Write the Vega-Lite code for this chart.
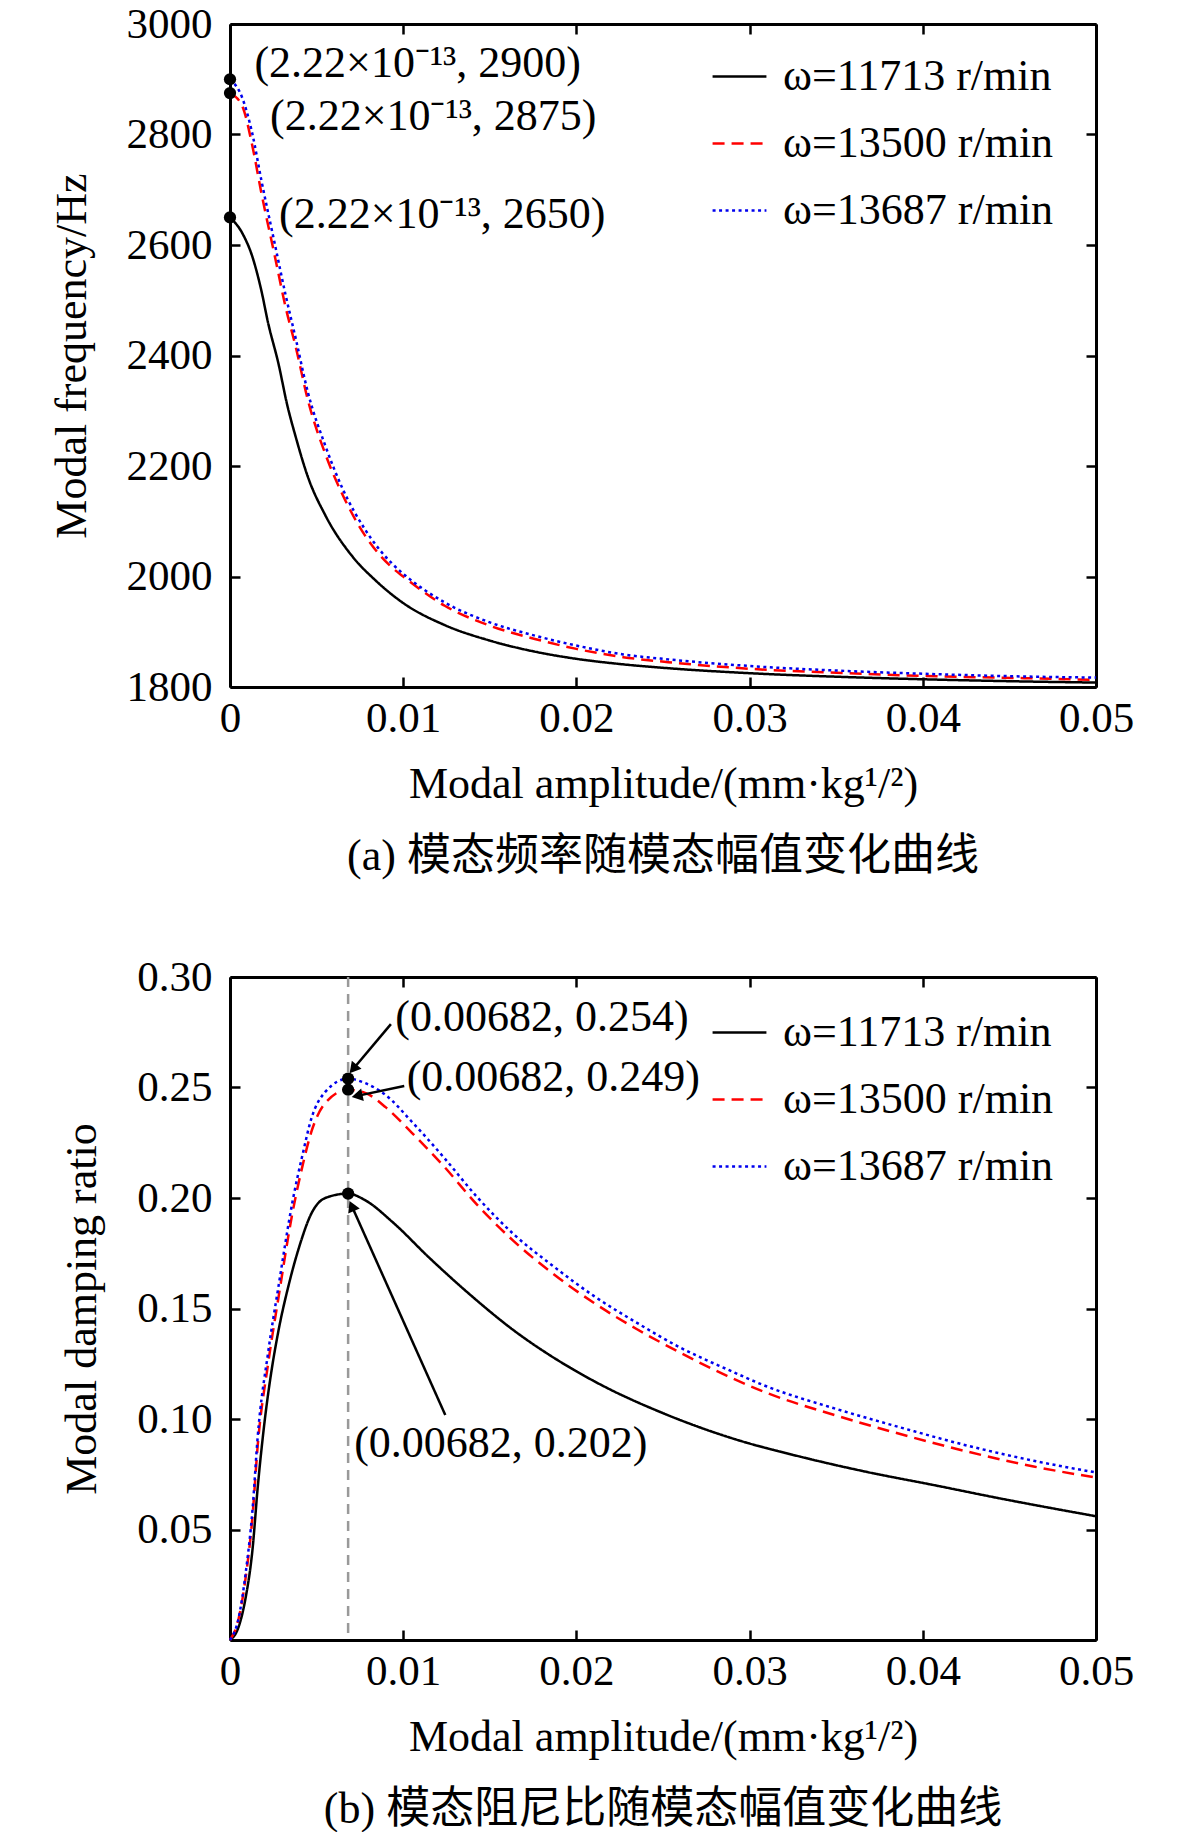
{
  "$schema": "https://vega.github.io/schema/vega-lite/v6.json",
  "background": "white",
  "padding": {"left": 50, "top": 3, "right": 0, "bottom": 0},
  "config": {
    "font": "Liberation Serif",
    "view": {"stroke": null},
    "concat": {"spacing": 77},
    "axis": {
      "domainColor": "black",
      "domainWidth": 3,
      "tickColor": "black",
      "tickWidth": 2.5,
      "tickSize": -10,
      "labelFont": "Liberation Serif",
      "labelFontSize": 43,
      "labelColor": "black",
      "titleFont": "Liberation Serif",
      "titleFontSize": 44,
      "titleFontWeight": "normal",
      "titleColor": "black",
      "grid": false,
      "labelFlush": false,
      "labelOverlap": false
    }
  },
  "datasets": {
    "freq": [
      {"amp": 0, "val": 2650, "series": "ω=11713 r/min"},
      {"amp": 0.0007, "val": 2622, "series": "ω=11713 r/min"},
      {"amp": 0.0013, "val": 2578, "series": "ω=11713 r/min"},
      {"amp": 0.0018, "val": 2519, "series": "ω=11713 r/min"},
      {"amp": 0.0022, "val": 2459, "series": "ω=11713 r/min"},
      {"amp": 0.0028, "val": 2385, "series": "ω=11713 r/min"},
      {"amp": 0.0033, "val": 2311, "series": "ω=11713 r/min"},
      {"amp": 0.0038, "val": 2252, "series": "ω=11713 r/min"},
      {"amp": 0.0045, "val": 2180, "series": "ω=11713 r/min"},
      {"amp": 0.0055, "val": 2111, "series": "ω=11713 r/min"},
      {"amp": 0.0071, "val": 2035, "series": "ω=11713 r/min"},
      {"amp": 0.0084, "val": 1993, "series": "ω=11713 r/min"},
      {"amp": 0.0100, "val": 1952, "series": "ω=11713 r/min"},
      {"amp": 0.0124, "val": 1912, "series": "ω=11713 r/min"},
      {"amp": 0.0150, "val": 1884, "series": "ω=11713 r/min"},
      {"amp": 0.0176, "val": 1864, "series": "ω=11713 r/min"},
      {"amp": 0.0200, "val": 1851, "series": "ω=11713 r/min"},
      {"amp": 0.0227, "val": 1841, "series": "ω=11713 r/min"},
      {"amp": 0.0253, "val": 1834, "series": "ω=11713 r/min"},
      {"amp": 0.0300, "val": 1825, "series": "ω=11713 r/min"},
      {"amp": 0.0356, "val": 1818, "series": "ω=11713 r/min"},
      {"amp": 0.0400, "val": 1814, "series": "ω=11713 r/min"},
      {"amp": 0.0459, "val": 1810, "series": "ω=11713 r/min"},
      {"amp": 0.0500, "val": 1808, "series": "ω=11713 r/min"},
      {"amp": 0, "val": 2875, "series": "ω=13500 r/min"},
      {"amp": 0.0007, "val": 2852, "series": "ω=13500 r/min"},
      {"amp": 0.0013, "val": 2778, "series": "ω=13500 r/min"},
      {"amp": 0.0018, "val": 2696, "series": "ω=13500 r/min"},
      {"amp": 0.0026, "val": 2578, "series": "ω=13500 r/min"},
      {"amp": 0.0032, "val": 2489, "series": "ω=13500 r/min"},
      {"amp": 0.0038, "val": 2415, "series": "ω=13500 r/min"},
      {"amp": 0.0045, "val": 2319, "series": "ω=13500 r/min"},
      {"amp": 0.0055, "val": 2222, "series": "ω=13500 r/min"},
      {"amp": 0.0065, "val": 2148, "series": "ω=13500 r/min"},
      {"amp": 0.0078, "val": 2074, "series": "ω=13500 r/min"},
      {"amp": 0.0094, "val": 2015, "series": "ω=13500 r/min"},
      {"amp": 0.0100, "val": 2000, "series": "ω=13500 r/min"},
      {"amp": 0.0124, "val": 1947, "series": "ω=13500 r/min"},
      {"amp": 0.0150, "val": 1911, "series": "ω=13500 r/min"},
      {"amp": 0.0176, "val": 1887, "series": "ω=13500 r/min"},
      {"amp": 0.0200, "val": 1869, "series": "ω=13500 r/min"},
      {"amp": 0.0227, "val": 1854, "series": "ω=13500 r/min"},
      {"amp": 0.0253, "val": 1845, "series": "ω=13500 r/min"},
      {"amp": 0.0300, "val": 1833, "series": "ω=13500 r/min"},
      {"amp": 0.0356, "val": 1825, "series": "ω=13500 r/min"},
      {"amp": 0.0400, "val": 1820, "series": "ω=13500 r/min"},
      {"amp": 0.0459, "val": 1816, "series": "ω=13500 r/min"},
      {"amp": 0.0500, "val": 1813, "series": "ω=13500 r/min"},
      {"amp": 0, "val": 2900, "series": "ω=13687 r/min"},
      {"amp": 0.0007, "val": 2867, "series": "ω=13687 r/min"},
      {"amp": 0.0013, "val": 2800, "series": "ω=13687 r/min"},
      {"amp": 0.0018, "val": 2719, "series": "ω=13687 r/min"},
      {"amp": 0.0026, "val": 2600, "series": "ω=13687 r/min"},
      {"amp": 0.0032, "val": 2511, "series": "ω=13687 r/min"},
      {"amp": 0.0038, "val": 2430, "series": "ω=13687 r/min"},
      {"amp": 0.0045, "val": 2333, "series": "ω=13687 r/min"},
      {"amp": 0.0055, "val": 2237, "series": "ω=13687 r/min"},
      {"amp": 0.0065, "val": 2159, "series": "ω=13687 r/min"},
      {"amp": 0.0078, "val": 2085, "series": "ω=13687 r/min"},
      {"amp": 0.0094, "val": 2022, "series": "ω=13687 r/min"},
      {"amp": 0.0100, "val": 2005, "series": "ω=13687 r/min"},
      {"amp": 0.0124, "val": 1953, "series": "ω=13687 r/min"},
      {"amp": 0.0150, "val": 1917, "series": "ω=13687 r/min"},
      {"amp": 0.0176, "val": 1893, "series": "ω=13687 r/min"},
      {"amp": 0.0200, "val": 1875, "series": "ω=13687 r/min"},
      {"amp": 0.0227, "val": 1859, "series": "ω=13687 r/min"},
      {"amp": 0.0253, "val": 1850, "series": "ω=13687 r/min"},
      {"amp": 0.0300, "val": 1838, "series": "ω=13687 r/min"},
      {"amp": 0.0356, "val": 1829, "series": "ω=13687 r/min"},
      {"amp": 0.0400, "val": 1824, "series": "ω=13687 r/min"},
      {"amp": 0.0459, "val": 1819, "series": "ω=13687 r/min"},
      {"amp": 0.0500, "val": 1817, "series": "ω=13687 r/min"}
    ],
    "freqPts": [
      {"amp": 0, "val": 2900},
      {"amp": 0, "val": 2875},
      {"amp": 0, "val": 2650}
    ],
    "freqNotes": [
      {"amp": 0.00141, "val": 2928, "label": "(2.22×10⁻¹³, 2900)"},
      {"amp": 0.00231, "val": 2832, "label": "(2.22×10⁻¹³, 2875)"},
      {"amp": 0.00283, "val": 2654, "label": "(2.22×10⁻¹³, 2650)"}
    ],
    "damp": [
      {"amp": 0, "val": 0, "series": "ω=11713 r/min"},
      {"amp": 0.0005, "val": 0.006, "series": "ω=11713 r/min"},
      {"amp": 0.0009, "val": 0.019, "series": "ω=11713 r/min"},
      {"amp": 0.0013, "val": 0.041, "series": "ω=11713 r/min"},
      {"amp": 0.0016, "val": 0.069, "series": "ω=11713 r/min"},
      {"amp": 0.0020, "val": 0.099, "series": "ω=11713 r/min"},
      {"amp": 0.0024, "val": 0.122, "series": "ω=11713 r/min"},
      {"amp": 0.0028, "val": 0.140, "series": "ω=11713 r/min"},
      {"amp": 0.0034, "val": 0.161, "series": "ω=11713 r/min"},
      {"amp": 0.0040, "val": 0.178, "series": "ω=11713 r/min"},
      {"amp": 0.0047, "val": 0.193, "series": "ω=11713 r/min"},
      {"amp": 0.0055, "val": 0.200, "series": "ω=11713 r/min"},
      {"amp": 0.00682, "val": 0.202, "series": "ω=11713 r/min"},
      {"amp": 0.0078, "val": 0.199, "series": "ω=11713 r/min"},
      {"amp": 0.0094, "val": 0.189, "series": "ω=11713 r/min"},
      {"amp": 0.0115, "val": 0.173, "series": "ω=11713 r/min"},
      {"amp": 0.0139, "val": 0.156, "series": "ω=11713 r/min"},
      {"amp": 0.0164, "val": 0.140, "series": "ω=11713 r/min"},
      {"amp": 0.0187, "val": 0.1277, "series": "ω=11713 r/min"},
      {"amp": 0.0210, "val": 0.1172, "series": "ω=11713 r/min"},
      {"amp": 0.0252, "val": 0.102, "series": "ω=11713 r/min"},
      {"amp": 0.0291, "val": 0.091, "series": "ω=11713 r/min"},
      {"amp": 0.0329, "val": 0.083, "series": "ω=11713 r/min"},
      {"amp": 0.0368, "val": 0.076, "series": "ω=11713 r/min"},
      {"amp": 0.0407, "val": 0.070, "series": "ω=11713 r/min"},
      {"amp": 0.0445, "val": 0.064, "series": "ω=11713 r/min"},
      {"amp": 0.0500, "val": 0.056, "series": "ω=11713 r/min"},
      {"amp": 0, "val": 0, "series": "ω=13500 r/min"},
      {"amp": 0.0005, "val": 0.0097, "series": "ω=13500 r/min"},
      {"amp": 0.0009, "val": 0.028, "series": "ω=13500 r/min"},
      {"amp": 0.0013, "val": 0.056, "series": "ω=13500 r/min"},
      {"amp": 0.0016, "val": 0.088, "series": "ω=13500 r/min"},
      {"amp": 0.0022, "val": 0.125, "series": "ω=13500 r/min"},
      {"amp": 0.0028, "val": 0.155, "series": "ω=13500 r/min"},
      {"amp": 0.0036, "val": 0.193, "series": "ω=13500 r/min"},
      {"amp": 0.0042, "val": 0.215, "series": "ω=13500 r/min"},
      {"amp": 0.0047, "val": 0.230, "series": "ω=13500 r/min"},
      {"amp": 0.0055, "val": 0.243, "series": "ω=13500 r/min"},
      {"amp": 0.00682, "val": 0.249, "series": "ω=13500 r/min"},
      {"amp": 0.0078, "val": 0.2476, "series": "ω=13500 r/min"},
      {"amp": 0.0090, "val": 0.241, "series": "ω=13500 r/min"},
      {"amp": 0.0105, "val": 0.2295, "series": "ω=13500 r/min"},
      {"amp": 0.01233, "val": 0.2145, "series": "ω=13500 r/min"},
      {"amp": 0.01426, "val": 0.197, "series": "ω=13500 r/min"},
      {"amp": 0.01638, "val": 0.1805, "series": "ω=13500 r/min"},
      {"amp": 0.01869, "val": 0.1655, "series": "ω=13500 r/min"},
      {"amp": 0.0210, "val": 0.1526, "series": "ω=13500 r/min"},
      {"amp": 0.0235, "val": 0.1406, "series": "ω=13500 r/min"},
      {"amp": 0.0260, "val": 0.1300, "series": "ω=13500 r/min"},
      {"amp": 0.0287, "val": 0.1195, "series": "ω=13500 r/min"},
      {"amp": 0.0310, "val": 0.1118, "series": "ω=13500 r/min"},
      {"amp": 0.0349, "val": 0.1018, "series": "ω=13500 r/min"},
      {"amp": 0.0387, "val": 0.0932, "series": "ω=13500 r/min"},
      {"amp": 0.0426, "val": 0.0852, "series": "ω=13500 r/min"},
      {"amp": 0.0464, "val": 0.0785, "series": "ω=13500 r/min"},
      {"amp": 0.0500, "val": 0.0735, "series": "ω=13500 r/min"},
      {"amp": 0, "val": 0, "series": "ω=13687 r/min"},
      {"amp": 0.0005, "val": 0.010, "series": "ω=13687 r/min"},
      {"amp": 0.0009, "val": 0.030, "series": "ω=13687 r/min"},
      {"amp": 0.0013, "val": 0.059, "series": "ω=13687 r/min"},
      {"amp": 0.0016, "val": 0.092, "series": "ω=13687 r/min"},
      {"amp": 0.0022, "val": 0.130, "series": "ω=13687 r/min"},
      {"amp": 0.0028, "val": 0.160, "series": "ω=13687 r/min"},
      {"amp": 0.0036, "val": 0.198, "series": "ω=13687 r/min"},
      {"amp": 0.0042, "val": 0.220, "series": "ω=13687 r/min"},
      {"amp": 0.0047, "val": 0.236, "series": "ω=13687 r/min"},
      {"amp": 0.0055, "val": 0.248, "series": "ω=13687 r/min"},
      {"amp": 0.00682, "val": 0.254, "series": "ω=13687 r/min"},
      {"amp": 0.0078, "val": 0.252, "series": "ω=13687 r/min"},
      {"amp": 0.0090, "val": 0.2465, "series": "ω=13687 r/min"},
      {"amp": 0.0105, "val": 0.2345, "series": "ω=13687 r/min"},
      {"amp": 0.01233, "val": 0.2185, "series": "ω=13687 r/min"},
      {"amp": 0.01426, "val": 0.2005, "series": "ω=13687 r/min"},
      {"amp": 0.01638, "val": 0.1836, "series": "ω=13687 r/min"},
      {"amp": 0.01869, "val": 0.169, "series": "ω=13687 r/min"},
      {"amp": 0.0210, "val": 0.1557, "series": "ω=13687 r/min"},
      {"amp": 0.0235, "val": 0.1435, "series": "ω=13687 r/min"},
      {"amp": 0.0260, "val": 0.1323, "series": "ω=13687 r/min"},
      {"amp": 0.0287, "val": 0.1225, "series": "ω=13687 r/min"},
      {"amp": 0.0310, "val": 0.1147, "series": "ω=13687 r/min"},
      {"amp": 0.0349, "val": 0.1048, "series": "ω=13687 r/min"},
      {"amp": 0.0387, "val": 0.0962, "series": "ω=13687 r/min"},
      {"amp": 0.0426, "val": 0.0879, "series": "ω=13687 r/min"},
      {"amp": 0.0464, "val": 0.0811, "series": "ω=13687 r/min"},
      {"amp": 0.0500, "val": 0.0758, "series": "ω=13687 r/min"}
    ],
    "dampPts": [
      {"amp": 0.00682, "val": 0.254},
      {"amp": 0.00682, "val": 0.249},
      {"amp": 0.00682, "val": 0.202}
    ],
    "dampNotes": [
      {"amp": 0.00954, "val": 0.2814, "label": "(0.00682, 0.254)"},
      {"amp": 0.0102, "val": 0.2543, "label": "(0.00682, 0.249)"},
      {"amp": 0.00717, "val": 0.0887, "label": "(0.00682, 0.202)"}
    ],
    "dampArrows": [
      {"id": 1, "amp": 0.00929, "val": 0.2787, "amp2": 0.00711, "val2": 0.2584},
      {"id": 2, "amp": 0.01006, "val": 0.2507, "amp2": 0.00734, "val2": 0.2462},
      {"id": 3, "amp": 0.01243, "val": 0.1018, "amp2": 0.00703, "val2": 0.1964}
    ],
    "peak": [{"amp": 0.00682}]
  },
  "vconcat": [
    {
      "width": 866,
      "height": 663,
      "title": {
        "text": "(a) 模态频率随模态幅值变化曲线",
        "orient": "bottom",
        "anchor": "middle",
        "font": "Liberation Serif, Noto Sans CJK SC",
        "fontSize": 44,
        "fontWeight": "normal",
        "color": "black",
        "offset": 29
      },
      "layer": [
        {
          "data": {"name": "freq"},
          "mark": {"type": "line", "strokeWidth": 2.5, "interpolate": "monotone"},
          "encoding": {
            "x": {
              "field": "amp", "type": "quantitative",
              "scale": {"domain": [0, 0.05]},
              "axis": {
                "orient": "bottom",
                "values": [0, 0.01, 0.02, 0.03, 0.04, 0.05],
                "labelExpr": "datum.value == 0 ? '0' : format(datum.value, '.2f')",
                "labelPadding": 20,
                "title": "Modal amplitude/(mm·kg¹/²)",
                "titlePadding": 22
              }
            },
            "y": {
              "field": "val", "type": "quantitative",
              "scale": {"domain": [1800, 3000]},
              "axis": {
                "orient": "left",
                "values": [1800, 2000, 2200, 2400, 2600, 2800, 3000],
                "format": "d",
                "labelPadding": 28,
                "title": "Modal frequency/Hz",
                "titlePadding": 32
              }
            },
            "color": {
              "field": "series", "type": "nominal",
              "scale": {"domain": ["ω=11713 r/min", "ω=13500 r/min", "ω=13687 r/min"], "range": ["#000000", "#ff0000", "#0000ee"]},
              "legend": {"title": null, "orient": "none", "legendX": 481, "legendY": 24, "symbolType": "stroke", "symbolSize": 2900, "symbolStrokeWidth": 2.5, "labelFont": "Liberation Serif", "labelFontSize": 44, "labelColor": "black", "labelOffset": 15, "labelLimit": 400, "rowPadding": 16, "padding": 0}
            },
            "strokeDash": {
              "field": "series", "type": "nominal",
              "scale": {"domain": ["ω=11713 r/min", "ω=13500 r/min", "ω=13687 r/min"], "range": [[1, 0], [12, 7], [3, 3.5]]},
              "legend": {"title": null, "orient": "none", "legendX": 481, "legendY": 24, "symbolType": "stroke", "symbolSize": 2900, "symbolStrokeWidth": 2.5, "labelFont": "Liberation Serif", "labelFontSize": 44, "labelColor": "black", "labelOffset": 15, "labelLimit": 400, "rowPadding": 16, "padding": 0}
            }
          }
        },
        {
          "data": {"name": "freqPts"},
          "mark": {"type": "point", "opacity": 0},
          "encoding": {
            "x": {
              "field": "amp", "type": "quantitative",
              "axis": {"orient": "top", "values": [0, 0.01, 0.02, 0.03, 0.04, 0.05], "labels": false, "title": null}
            },
            "y": {
              "field": "val", "type": "quantitative",
              "axis": {"orient": "right", "values": [1800, 2000, 2200, 2400, 2600, 2800, 3000], "labels": false, "title": null}
            }
          }
        },
        {
          "data": {"name": "freqPts"},
          "mark": {"type": "circle", "size": 150, "color": "black", "opacity": 1, "clip": false},
          "encoding": {
            "x": {"field": "amp", "type": "quantitative", "axis": null},
            "y": {"field": "val", "type": "quantitative", "axis": null}
          }
        },
        {
          "data": {"name": "freqNotes"},
          "mark": {"type": "text", "align": "left", "baseline": "middle", "fontSize": 44, "font": "Liberation Serif", "color": "black"},
          "encoding": {
            "x": {"field": "amp", "type": "quantitative", "axis": null},
            "y": {"field": "val", "type": "quantitative", "axis": null},
            "text": {"field": "label"}
          }
        }
      ],
      "resolve": {"axis": {"x": "independent", "y": "independent"}}
    },
    {
      "width": 866,
      "height": 663,
      "title": {
        "text": "(b) 模态阻尼比随模态幅值变化曲线",
        "orient": "bottom",
        "anchor": "middle",
        "font": "Liberation Serif, Noto Sans CJK SC",
        "fontSize": 44,
        "fontWeight": "normal",
        "color": "black",
        "offset": 29
      },
      "layer": [
        {
          "data": {"name": "peak"},
          "mark": {"type": "rule", "color": "#999999", "strokeWidth": 2.5, "strokeDash": [10, 7]},
          "encoding": {
            "x": {"field": "amp", "type": "quantitative", "scale": {"domain": [0, 0.05]}, "axis": null}
          }
        },
        {
          "data": {"name": "damp"},
          "mark": {"type": "line", "strokeWidth": 2.5, "interpolate": "monotone"},
          "encoding": {
            "x": {
              "field": "amp", "type": "quantitative",
              "scale": {"domain": [0, 0.05]},
              "axis": {
                "orient": "bottom",
                "values": [0, 0.01, 0.02, 0.03, 0.04, 0.05],
                "labelExpr": "datum.value == 0 ? '0' : format(datum.value, '.2f')",
                "labelPadding": 20,
                "title": "Modal amplitude/(mm·kg¹/²)",
                "titlePadding": 22
              }
            },
            "y": {
              "field": "val", "type": "quantitative",
              "scale": {"domain": [0, 0.3]},
              "axis": {
                "orient": "left",
                "values": [0, 0.05, 0.1, 0.15, 0.2, 0.25, 0.3],
                "labelExpr": "datum.value == 0 ? '' : format(datum.value, '.2f')",
                "labelPadding": 28,
                "title": "Modal damping ratio",
                "titlePadding": 32
              }
            },
            "color": {
              "field": "series", "type": "nominal",
              "scale": {"domain": ["ω=11713 r/min", "ω=13500 r/min", "ω=13687 r/min"], "range": ["#000000", "#ff0000", "#0000ee"]},
              "legend": {"title": null, "orient": "none", "legendX": 481, "legendY": 27, "symbolType": "stroke", "symbolSize": 2900, "symbolStrokeWidth": 2.5, "labelFont": "Liberation Serif", "labelFontSize": 44, "labelColor": "black", "labelOffset": 15, "labelLimit": 400, "rowPadding": 16, "padding": 0}
            },
            "strokeDash": {
              "field": "series", "type": "nominal",
              "scale": {"domain": ["ω=11713 r/min", "ω=13500 r/min", "ω=13687 r/min"], "range": [[1, 0], [12, 7], [3, 3.5]]},
              "legend": {"title": null, "orient": "none", "legendX": 481, "legendY": 27, "symbolType": "stroke", "symbolSize": 2900, "symbolStrokeWidth": 2.5, "labelFont": "Liberation Serif", "labelFontSize": 44, "labelColor": "black", "labelOffset": 15, "labelLimit": 400, "rowPadding": 16, "padding": 0}
            }
          }
        },
        {
          "data": {"name": "dampPts"},
          "mark": {"type": "point", "opacity": 0},
          "encoding": {
            "x": {
              "field": "amp", "type": "quantitative",
              "axis": {"orient": "top", "values": [0, 0.01, 0.02, 0.03, 0.04, 0.05], "labels": false, "title": null}
            },
            "y": {
              "field": "val", "type": "quantitative",
              "axis": {"orient": "right", "values": [0, 0.05, 0.1, 0.15, 0.2, 0.25, 0.3], "labels": false, "title": null}
            }
          }
        },
        {
          "data": {"name": "dampArrows"},
          "mark": {"type": "rule", "color": "black", "strokeWidth": 2.5},
          "encoding": {
            "x": {"field": "amp", "type": "quantitative", "axis": null},
            "y": {"field": "val", "type": "quantitative", "axis": null},
            "x2": {"field": "amp2"},
            "y2": {"field": "val2"}
          }
        },
        {
          "data": {"name": "dampArrows"},
          "transform": [{"filter": "datum.id == 1"}],
          "mark": {"type": "point", "shape": "triangle-up", "filled": true, "color": "black", "opacity": 1, "size": 160, "angle": 220},
          "encoding": {
            "x": {"field": "amp2", "type": "quantitative", "axis": null},
            "y": {"field": "val2", "type": "quantitative", "axis": null}
          }
        },
        {
          "data": {"name": "dampArrows"},
          "transform": [{"filter": "datum.id == 2"}],
          "mark": {"type": "point", "shape": "triangle-up", "filled": true, "color": "black", "opacity": 1, "size": 160, "angle": 258},
          "encoding": {
            "x": {"field": "amp2", "type": "quantitative", "axis": null},
            "y": {"field": "val2", "type": "quantitative", "axis": null}
          }
        },
        {
          "data": {"name": "dampArrows"},
          "transform": [{"filter": "datum.id == 3"}],
          "mark": {"type": "point", "shape": "triangle-up", "filled": true, "color": "black", "opacity": 1, "size": 160, "angle": 336},
          "encoding": {
            "x": {"field": "amp2", "type": "quantitative", "axis": null},
            "y": {"field": "val2", "type": "quantitative", "axis": null}
          }
        },
        {
          "data": {"name": "dampPts"},
          "mark": {"type": "circle", "size": 150, "color": "black", "opacity": 1},
          "encoding": {
            "x": {"field": "amp", "type": "quantitative", "axis": null},
            "y": {"field": "val", "type": "quantitative", "axis": null}
          }
        },
        {
          "data": {"name": "dampNotes"},
          "mark": {"type": "text", "align": "left", "baseline": "middle", "fontSize": 44, "font": "Liberation Serif", "color": "black"},
          "encoding": {
            "x": {"field": "amp", "type": "quantitative", "axis": null},
            "y": {"field": "val", "type": "quantitative", "axis": null},
            "text": {"field": "label"}
          }
        }
      ],
      "resolve": {"axis": {"x": "independent", "y": "independent"}}
    }
  ],
  "resolve": {"legend": {"color": "independent", "strokeDash": "independent"}}
}
